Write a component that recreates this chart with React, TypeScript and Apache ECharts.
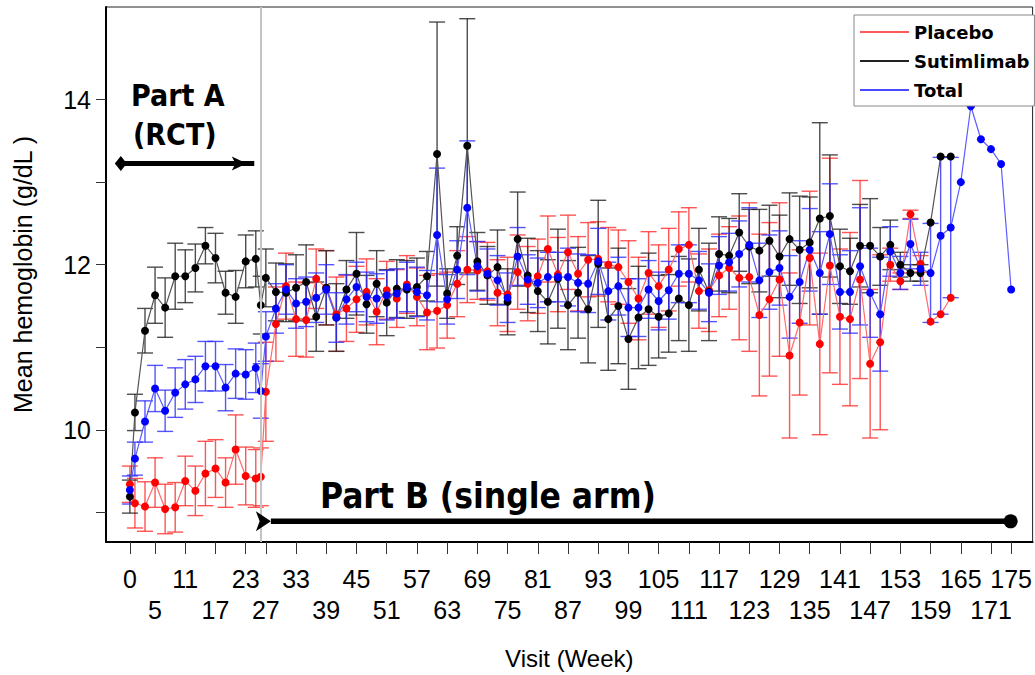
import React, { useEffect, useRef } from "react";
import * as echarts from "echarts";

// ---------- data ----------
const weeks = [
  0, 1, 3, 5, 7, 9, 11, 13, 15, 17, 19, 21, 23, 25, 26,
  27, 29, 31, 33, 35, 37, 39, 41, 43, 45, 47, 49, 51, 53, 55, 57, 59, 61, 63, 65,
  67, 69, 71, 73, 75, 77, 79, 81, 83, 85, 87, 89, 91, 93, 95, 97, 99, 101, 103, 105,
  107, 109, 111, 113, 115, 117, 119, 121, 123, 125, 127, 129, 131, 133, 135, 137, 139, 141, 143, 145,
  147, 149, 151, 153, 155, 157, 159, 161, 163, 165, 167, 169, 171, 173, 175,
];

const placeboMean = [
  9.34, 9.11, 9.07, 9.36, 9.04, 9.06, 9.38, 9.26, 9.47, 9.53, 9.36, 9.76, 9.44, 9.41, 9.43,
  10.46, 11.28, 11.74, 11.34, 11.33, 11.83, 11.72, 11.4, 11.47, 11.58,
  11.67, 11.43, 11.69, 11.59, 11.76, 11.61, 11.42, 11.44, 11.51, 11.77,
  11.94, 11.93, 11.92, 11.66, 11.64, 11.91, 11.77, 11.86, 12.19, 11.88,
  12.15, 11.89, 12.06, 12.07, 12.0, 11.97, 11.79, 11.59, 11.9, 11.74,
  11.94, 12.19, 12.24, 11.68, 11.69, 11.87, 11.96, 11.84, 11.85, 11.39,
  11.58, 11.82, 10.9, 11.3, 12.08, 11.04, 11.99, 11.37, 11.34, 11.82,
  10.8, 11.06, 12.0, 11.8, 12.61, 12.01, 11.31, 11.4, 11.6,
];
const placeboSE = [
  0.22, 0.3, 0.3, 0.3, 0.3, 0.3, 0.3, 0.3, 0.39, 0.35, 0.3, 0.42, 0.35, 0.35, 0.35,
  0.6, 0.45, 0.4, 0.45, 0.45, 0.36, 0.45, 0.45, 0.4, 0.4,
  0.4, 0.4, 0.35, 0.35, 0.35, 0.35, 0.45, 0.45, 0.4, 0.4,
  0.4, 0.35, 0.35, 0.4, 0.45, 0.45, 0.45, 0.45, 0.4, 0.45,
  0.45, 0.45, 0.45, 0.45, 0.45, 0.45, 0.5, 0.5, 0.5, 0.5,
  0.5, 0.45, 0.45, 0.45, 0.5, 0.5, 0.5, 0.75, 0.9, 0.98,
  0.93, 0.93, 1.0, 0.88, 0.81, 1.1, 1.3, 0.82, 1.05, 1.2,
  0.9, 1.06, 0.2, 0.1, 0.05, 0.1, 0, 0, 0,
];

const sutimlimabMean = [
  9.19, 10.21, 11.2, 11.63, 11.48, 11.86, 11.86, 11.96, 12.23, 12.08, 11.66, 11.61, 12.04, 12.07, 11.51,
  11.84, 11.67, 11.66, 11.72, 11.79, 11.37, 11.72, 11.36, 11.7, 11.89,
  11.52, 11.77, 11.54, 11.71, 11.7, 11.73, 11.86, 13.34, 11.65, 12.11,
  13.44, 12.04, 11.87, 11.97, 11.55, 12.31, 11.87, 11.68, 11.55, 11.83,
  11.51, 11.66, 11.46, 12.01, 11.34, 11.5, 11.1, 11.36, 11.46, 11.37,
  11.41, 11.59, 11.51, 11.94, 11.67, 12.13, 12.11, 12.39, 12.22, 12.17,
  12.29, 12.1, 12.31, 12.18, 12.27, 12.56, 12.59, 11.98, 11.92, 12.23,
  12.23, 12.1, 12.24, 12.0, 11.9, 11.9, 12.51, 13.31, 13.31,
];
const sutimlimabSE = [
  0.2, 0.22, 0.27, 0.34, 0.36, 0.4, 0.32, 0.29, 0.22, 0.3, 0.26, 0.32, 0.32, 0.34, 0.35,
  0.35, 0.35, 0.35, 0.4, 0.45, 0.42, 0.45, 0.41, 0.35, 0.5,
  0.35, 0.4, 0.4, 0.35, 0.35, 0.35, 0.3, 1.6, 0.3, 0.35,
  1.54, 0.35, 0.35, 0.45, 0.4, 0.57, 0.45, 0.49, 0.51, 0.6,
  0.54, 0.55, 0.65, 0.77, 0.62, 0.7, 0.61, 0.62, 0.68, 0.5,
  0.47, 0.51, 0.56, 0.5, 0.59, 0.45, 0.45, 0.47, 0.45, 0.5,
  0.43, 0.5, 0.56, 0.65, 0.55, 1.16, 0.74, 0.45, 0.4, 0.5,
  0.57, 0.35, 0.3, 0.15, 0.1, 0.1, 0, 0, 0,
];

const totalMean = [
  9.27, 9.65, 10.1, 10.5, 10.23, 10.45, 10.55, 10.61, 10.77, 10.77, 10.51, 10.68, 10.67, 10.75, 10.47,
  11.13, 11.47, 11.7, 11.53, 11.55, 11.6, 11.7, 11.36, 11.58, 11.73,
  11.61, 11.59, 11.63, 11.65, 11.73, 11.67, 11.63, 12.36, 11.58, 11.94,
  12.69, 11.98, 11.89, 11.81, 11.6, 12.1, 11.82, 11.78, 11.85, 11.85,
  11.85, 11.78, 11.77, 12.04, 11.68, 11.74, 11.48, 11.48, 11.7, 11.56,
  11.69, 11.89, 11.89, 11.81, 11.66, 11.99, 12.03, 12.13, 12.24, 11.81,
  11.91, 11.96, 11.61, 11.79, 12.18, 11.9, 12.37, 11.67, 11.67, 11.98,
  11.66, 11.4, 12.16, 11.9, 12.25, 11.95, 11.9, 12.35, 12.45, 13.0,
  13.92, 13.52, 13.4, 13.22, 11.7,
];
const totalSE = [
  0.17, 0.2, 0.25, 0.28, 0.25, 0.3, 0.3, 0.28, 0.3, 0.3, 0.28, 0.3, 0.3, 0.3, 0.33,
  0.3, 0.3, 0.3, 0.3, 0.3, 0.3, 0.3, 0.3, 0.3, 0.3,
  0.3, 0.3, 0.3, 0.3, 0.3, 0.3, 0.3, 0.81, 0.3, 0.35,
  0.81, 0.3, 0.3, 0.3, 0.3, 0.35, 0.3, 0.3, 0.3, 0.3,
  0.35, 0.35, 0.35, 0.4, 0.35, 0.35, 0.35, 0.35, 0.35, 0.35,
  0.35, 0.35, 0.35, 0.35, 0.35, 0.35, 0.35, 0.4, 0.45, 0.45,
  0.45, 0.45, 0.5, 0.5, 0.5, 0.5, 0.61, 0.45, 0.5, 0.71,
  0.54, 0.69, 0.3, 0.2, 0.3, 0.2, 0.6, 0.95, 0.85, 0,
  0, 0, 0, 0, 0,
];

const xTopRowLabels = [0, 11, 23, 33, 45, 57, 69, 81, 93, 105, 117, 129, 141, 153, 165, 175];
const xBottomRowLabels = [5, 17, 27, 39, 51, 63, 75, 87, 99, 111, 123, 135, 147, 159, 171];
const yTickValues = [9, 10, 11, 12, 13, 14];
const yLabelValues = [10, 12, 14];

// annotations (data coordinates)
const partDividerWeek = 26;
const partAArrowX = [-1.8, 24.7];
const partAArrowY = 13.225;
const partBArrowX = [28.0, 174.9];
const partBArrowY = 8.89;

// ---------- layout ----------
const X_MIN = -4.743;
const X_MAX = 179.26;
const Y_MIN = 8.64;
const Y_MAX = 15.122;

const NARROW = '"Liberation Sans Narrow", "Liberation Sans", Arial, sans-serif';
const SANS = '"Liberation Sans", Arial, sans-serif';
const BOLD_COND = '"DejaVu Sans Condensed", "DejaVu Sans", sans-serif';

function meanSeries(name: string, dot: string, line: string, means: number[]) {
  return {
    type: "line",
    name,
    data: means.map((m, i) => [weeks[i], m]),
    symbol: "circle",
    symbolSize: 8,
    itemStyle: { color: dot },
    lineStyle: { color: line, width: 1.2 },
    z: 4,
    silent: true,
  };
}

function errSeries(name: string, color: string, means: number[], ses: number[]) {
  const data: number[][] = [];
  means.forEach((m, i) => {
    if (ses[i] > 0) data.push([weeks[i], m - ses[i], m + ses[i]]);
  });
  return {
    type: "custom",
    name,
    silent: true,
    z: 3,
    encode: { x: 0, y: [1, 2] },
    data,
    renderItem: (params: any, api: any) => {
      const x = api.value(0);
      const lo = api.coord([x, api.value(1)]);
      const hi = api.coord([x, api.value(2)]);
      const hw = 8;
      const style = { stroke: color, lineWidth: 1.4, opacity: 0.8 };
      return {
        type: "group",
        children: [
          { type: "line", shape: { x1: hi[0], y1: hi[1], x2: lo[0], y2: lo[1] }, style },
          { type: "line", shape: { x1: hi[0] - hw, y1: hi[1], x2: hi[0] + hw, y2: hi[1] }, style },
          { type: "line", shape: { x1: lo[0] - hw, y1: lo[1], x2: lo[0] + hw, y2: lo[1] }, style },
        ],
      };
    },
  };
}

export default function App() {
  const ref = useRef<HTMLDivElement>(null);

  useEffect(() => {
    if (!ref.current) return;
    const chart = echarts.init(ref.current, undefined, { renderer: "svg" });
    const xTicks = [...xTopRowLabels, ...xBottomRowLabels].sort((a, b) => a - b);
    const xLabelStyle = { fontSize: 25, lineHeight: 31, fontFamily: NARROW, color: "#000" };

    const option: any = {
      animation: false,
      backgroundColor: "#fff",
      grid: {
        left: 106,
        top: 7,
        width: 931,
        height: 538,
        show: true,
        borderColor: "#222",
        borderWidth: 1,
        containLabel: false,
      },
      xAxis: [
        {
          type: "value",
          min: X_MIN,
          max: X_MAX,
          position: "bottom",
          splitLine: { show: false },
          axisLine: { show: true, onZero: false, lineStyle: { color: "#000", width: 2 } },
          axisTick: { show: true, length: 12, customValues: xTicks, lineStyle: { color: "#333", width: 1 } },
          axisLabel: { customValues: xTopRowLabels, margin: 21, hideOverlap: false, ...xLabelStyle },
          name: "Visit (Week)",
          nameLocation: "middle",
          nameGap: 104,
          nameTextStyle: { fontSize: 24, fontFamily: SANS, color: "#000" },
        },
        {
          type: "value",
          min: X_MIN,
          max: X_MAX,
          position: "bottom",
          offset: 0,
          splitLine: { show: false },
          axisLine: { show: false },
          axisTick: { show: false },
          axisLabel: { customValues: xBottomRowLabels, margin: 52, hideOverlap: false, ...xLabelStyle },
        },
      ],
      yAxis: {
        type: "value",
        min: Y_MIN,
        max: Y_MAX,
        splitLine: { show: false },
        axisLine: { show: true, onZero: false, lineStyle: { color: "#000", width: 2 } },
        axisTick: { show: true, length: 10, customValues: yTickValues, lineStyle: { color: "#333", width: 1 } },
        axisLabel: {
          customValues: yLabelValues,
          fontSize: 25,
          margin: 15,
          fontFamily: NARROW,
          color: "#000",
        },
        name: "Mean hemoglobin (g/dL )",
        nameLocation: "middle",
        nameRotate: 90,
        nameGap: 71,
        nameTextStyle: { fontSize: 25, fontFamily: SANS, color: "#000" },
      },
      legend: {
        left: 854,
        top: 15,
        orient: "vertical",
        itemWidth: 49,
        itemHeight: 2,
        itemGap: 9,
        padding: [7, 5, 6, 6],
        borderColor: "#888",
        borderWidth: 1,
        backgroundColor: "#fff",
        z: 10,
        textStyle: { fontFamily: '"DejaVu Sans", sans-serif', fontWeight: "bold", fontSize: 18, color: "#000", lineHeight: 20 },
        data: [
          { name: "Placebo", icon: "rect", itemStyle: { color: "#ff5a5a" } },
          { name: "Sutimlimab", icon: "rect", itemStyle: { color: "#222" } },
          { name: "Total", icon: "rect", itemStyle: { color: "#4a4aff" } },
        ],
        selectedMode: false,
      },
      graphic: [
        {
          type: "text", x: 131, y: 95, z: 20,
          style: { text: "Part A", fontFamily: BOLD_COND, fontWeight: "bold", fontSize: 30, fill: "#000", align: "left", verticalAlign: "middle" },
        },
        {
          type: "text", x: 133, y: 134, z: 20,
          style: { text: "(RCT)", fontFamily: BOLD_COND, fontWeight: "bold", fontSize: 30, fill: "#000", align: "left", verticalAlign: "middle" },
        },
        {
          type: "text", x: 320, y: 496, z: 20,
          style: { text: "Part B (single arm)", fontFamily: BOLD_COND, fontWeight: "bold", fontSize: 35, fill: "#000", align: "left", verticalAlign: "middle" },
        },
      ],
      series: [
        {
          type: "line",
          name: "divider",
          data: [],
          markLine: {
            silent: true,
            symbol: "none",
            label: { show: false },
            lineStyle: { color: "#c4c4c4", width: 2, type: "solid" },
            data: [{ xAxis: partDividerWeek }],
          },
          z: 1,
        },
        errSeries("Placebo SE", "#ff2a2a", placeboMean, placeboSE),
        errSeries("Sutimlimab SE", "#222222", sutimlimabMean, sutimlimabSE),
        errSeries("Total SE", "#2a2aff", totalMean, totalSE),
        meanSeries("Placebo", "#ff0000", "#ff6a6a", placeboMean),
        meanSeries("Sutimlimab", "#000000", "#555555", sutimlimabMean),
        meanSeries("Total", "#0000ff", "#5c5cff", totalMean),
        // Part A arrow
        {
          type: "line", name: "partA", silent: true, z: 6, symbol: "none",
          data: partAArrowX.map((x) => [x, partAArrowY]),
          lineStyle: { color: "#000", width: 5 },
        },
        {
          type: "scatter", name: "partAEnds", silent: true, z: 7,
          data: [
            { value: [partAArrowX[0], partAArrowY], symbol: "diamond", symbolSize: [12, 15] },
            { value: [partAArrowX[1], partAArrowY], symbol: "arrow", symbolSize: [10.5, 15], symbolRotate: -90, symbolOffset: [-7.5, 0] },
          ],
          itemStyle: { color: "#000", opacity: 1 },
        },
        // Part B arrow
        {
          type: "line", name: "partB", silent: true, z: 6, symbol: "none",
          data: partBArrowX.map((x) => [x, partBArrowY]),
          lineStyle: { color: "#000", width: 5.5 },
        },
        {
          type: "scatter", name: "partBEnds", silent: true, z: 7,
          data: [
            { value: [partBArrowX[0], partBArrowY], symbol: "arrow", symbolSize: [15, 15], symbolRotate: -90 },
            { value: [partBArrowX[1], partBArrowY], symbol: "circle", symbolSize: 14 },
          ],
          itemStyle: { color: "#000", opacity: 1 },
        },
      ],
    };

    chart.setOption(option);
    return () => chart.dispose();
  }, []);

  return (
    <div
      ref={ref}
      style={{ position: "fixed", left: 0, top: 0, width: 1035, height: 675, background: "#fff" }}
    />
  );
}
